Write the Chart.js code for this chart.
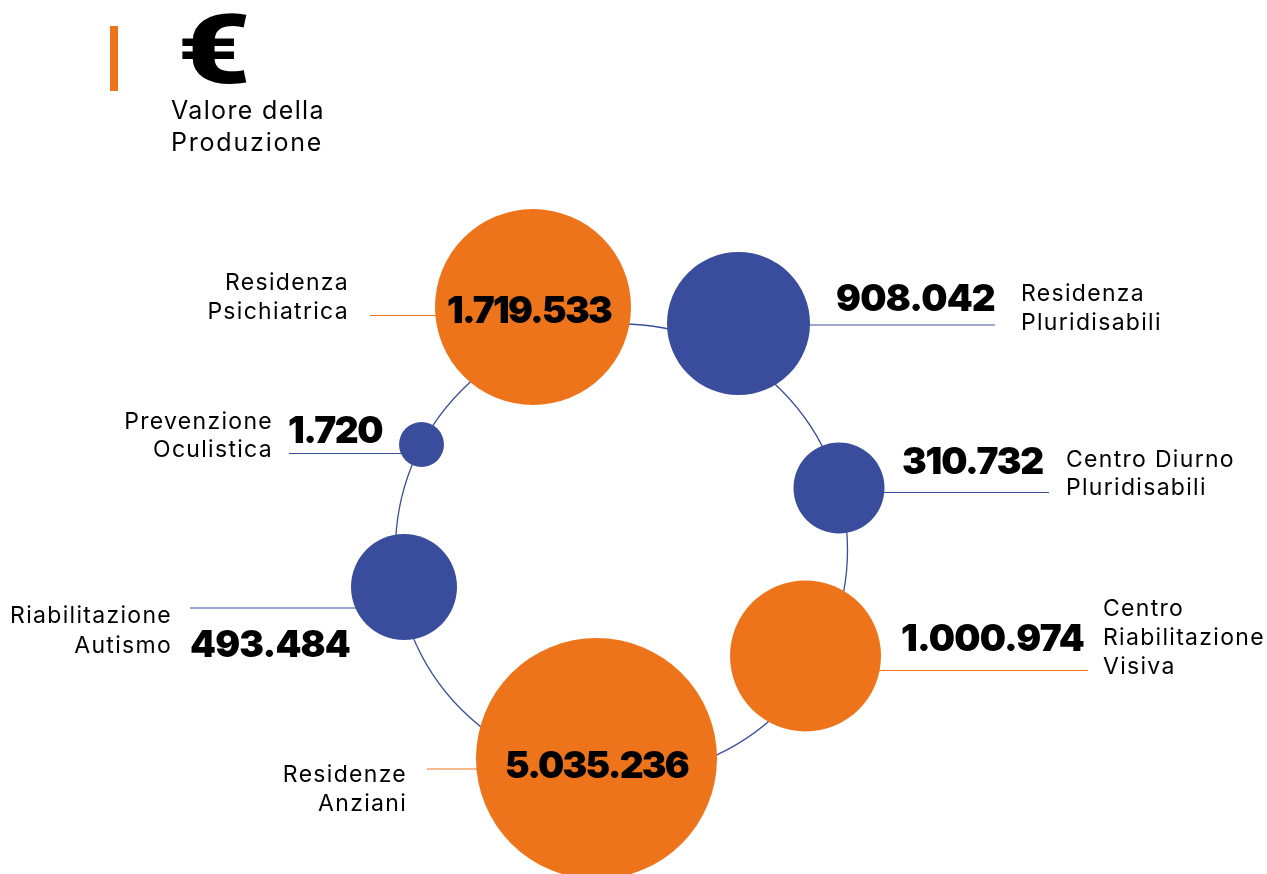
<!DOCTYPE html>
<html>
<head>
<meta charset="utf-8">
<style>
  body { margin: 0; background: #fff; overflow: hidden; }
  #myChart { display: block; }
  .bar { position: absolute; left: 110px; top: 26px; width: 8px; height: 65px; background: #EE741C; }
</style>
<script src="https://cdn.jsdelivr.net/npm/chart.js@4"></script>
</head>
<body>
<div class="bar"></div>
<canvas id="myChart" width="1267" height="874"></canvas>
<script>
const orange = '#EE741C';
const blue = '#3A4D9C';

// categories and values as printed on the picture
const categories = ['Residenza Psichiatrica', 'Residenza Pluridisabili', 'Centro Diurno Pluridisabili',
  'Centro Riabilitazione Visiva', 'Residenze Anziani', 'Riabilitazione Autismo', 'Prevenzione Oculistica'];
const values = [1719533, 908042, 310732, 1000974, 5035236, 493484, 1720];
const valueLabels = ['1.719.533', '908.042', '310.732', '1.000.974', '5.035.236', '493.484', '1.720'];
const groups = ['o', 'b', 'b', 'o', 'o', 'b', 'b'];

// bubble series in axis units
const bubbleX = [533, 738.5, 839, 805.5, 596.5, 404, 421.5];
const bubbleY = [307, 323.5, 488, 656, 758.5, 587, 444.5];
const bubbleR = [98, 71.5, 45.5, 75.5, 120.5, 53, 22.5];

// leader lines: where each one ends and at what height
const leaderEndX = [370, 995, 1049, 1088, 427, 190, 289];
const leaderY = [315.5, 325, 492.5, 670.5, 769, 608, 453.5];

const ringX = [621.5];
const ringY = [550];
const ringR = [226];

const colorOf = i => groups[i] === 'o' ? orange : blue;

const labelFont = '400 23px Inter, "Open Sans", sans-serif';
const numberFont = '900 37px Inter, "Open Sans", sans-serif';

// text, x, baseline y, align, font, letter spacing (or target width for the numbers)
const texts = [
  ['Valore della', 171, 119, 'left', '400 25px Inter', '1.35px'],
  ['Produzione', 171, 151, 'left', '400 25px Inter', '1.8px'],
  ['Residenza', 349, 290, 'right', labelFont, '1.3px'],
  ['Psichiatrica', 349, 319, 'right', labelFont, '1.3px'],
  [valueLabels[0], 529, 323, 'center', numberFont, 164],
  [valueLabels[1], 915.5, 311, 'center', numberFont, 159],
  ['Residenza', 1021, 301, 'left', labelFont, '1.3px'],
  ['Pluridisabili', 1021, 330, 'left', labelFont, '1.3px'],
  [valueLabels[2], 972.5, 474, 'center', numberFont, 141],
  ['Centro Diurno', 1066, 467, 'left', labelFont, '1.3px'],
  ['Pluridisabili', 1066, 495, 'left', labelFont, '1.3px'],
  [valueLabels[3], 992.5, 651, 'center', numberFont, 183],
  ['Centro', 1103, 616, 'left', labelFont, '1.3px'],
  ['Riabilitazione', 1103, 645, 'left', labelFont, '1.3px'],
  ['Visiva', 1103, 674, 'left', labelFont, '1.3px'],
  [valueLabels[4], 596.5, 778, 'center', numberFont, 183],
  ['Residenze', 407, 782, 'right', labelFont, '1.3px'],
  ['Anziani', 407, 811, 'right', labelFont, '1.3px'],
  [valueLabels[5], 270, 657, 'center', numberFont, 160],
  ['Riabilitazione', 172, 623, 'right', labelFont, '1.3px'],
  ['Autismo', 172, 653, 'right', labelFont, '1.3px'],
  [valueLabels[6], 335, 443, 'center', numberFont, 94],
  ['Prevenzione', 273, 429, 'right', labelFont, '1.3px'],
  ['Oculistica', 273, 457, 'right', labelFont, '1.3px']
];

const textPlugin = {
  id: 'texts',
  afterDatasetsDraw(chart) {
    const c = chart.ctx;
    const sx = chart.scales.x, sy = chart.scales.y;
    c.save();
    c.fillStyle = '#000';
    c.textBaseline = 'alphabetic';
    texts.forEach(t => {
      c.font = t[4];
      c.textAlign = t[3];
      c.letterSpacing = '0px';
      if (typeof t[5] === 'number') {
        c.letterSpacing = ((t[5] - c.measureText(t[0]).width) / t[0].length) + 'px';
      } else {
        c.letterSpacing = t[5];
      }
      c.fillText(t[0], sx.getPixelForValue(t[1]), sy.getPixelForValue(t[2]));
    });
    // the euro sign is wider than any installed font draws it
    c.letterSpacing = '0px';
    c.font = '900 96px Roboto';
    c.textAlign = 'center';
    c.translate(sx.getPixelForValue(214), sy.getPixelForValue(83));
    c.scale(1.33, 1);
    c.fillText('€', 0, 0);
    c.restore();
  }
};

const leaders = categories.map((name, i) => ({
  type: 'scatter',
  label: name,
  showLine: true,
  data: [{ x: bubbleX[i], y: leaderY[i] }, { x: leaderEndX[i], y: leaderY[i] }],
  borderColor: colorOf(i),
  borderWidth: 1,
  pointRadius: 0,
  order: 2
}));

new Chart(document.getElementById('myChart'), {
  type: 'bubble',
  data: {
    datasets: [
      {
        label: 'Valore della Produzione',
        data: values.map((v, i) => ({ x: bubbleX[i], y: bubbleY[i], r: bubbleR[i], v: v })),
        backgroundColor: categories.map((n, i) => colorOf(i)),
        borderWidth: 0,
        clip: false,
        order: 1
      },
      ...leaders,
      {
        label: 'ring',
        data: ringX.map((x, i) => ({ x: x, y: ringY[i], r: ringR[i] })),
        backgroundColor: 'rgba(0,0,0,0)',
        borderColor: blue,
        borderWidth: 1.3,
        clip: false,
        order: 3
      }
    ]
  },
  options: {
    responsive: false,
    animation: false,
    layout: { padding: 0, autoPadding: false },
    plugins: { legend: { display: false }, tooltip: { enabled: false } },
    scales: {
      x: { type: 'linear', display: false, min: 0, max: 1267 },
      y: { type: 'linear', display: false, min: 0, max: 874, reverse: true }
    }
  },
  plugins: [textPlugin]
});
</script>
</body>
</html>
